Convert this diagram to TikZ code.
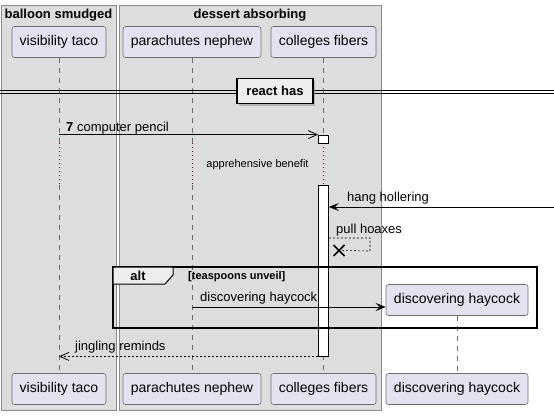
\documentclass[tikz,border=0pt]{standalone}
\usepackage{fontspec}
\setmainfont{Liberation Sans}
\usetikzlibrary{arrows.meta,shadows}
\definecolor{grpbg}{HTML}{DDDDDD}
\definecolor{grpline}{HTML}{8A8A8A}
\definecolor{partfill}{HTML}{E2E2F0}
\definecolor{partline}{HTML}{6E6E6E}
\definecolor{lifel}{HTML}{6E6E6E}
\definecolor{delayc}{HTML}{A80036}
\definecolor{tabfill}{HTML}{EEEEEE}
\tikzset{
  grpbox/.style={fill=grpbg, draw=grpline, line width=0.8pt},
  grptitle/.style={font=\fontsize{13}{15}\selectfont\bfseries, inner sep=0pt},
  part/.style={draw=partline, fill=partfill, rounded corners=2.5pt, line width=0.6pt,
    font=\fontsize{14}{16}\selectfont, inner sep=0pt, minimum height=31pt},
  lifeline/.style={draw=lifel, dash pattern=on 5pt off 5pt, line width=0.6pt},
  delayline/.style={draw=delayc, dash pattern=on 1pt off 3pt, line width=1pt},
  actbox/.style={draw=black, fill=white, minimum width=10pt, inner sep=0pt, line width=0.8pt},
  msgtext/.style={font=\fontsize{13}{15}\selectfont, inner sep=0pt, anchor=base west},
  smalltext/.style={font=\fontsize{11}{13}\selectfont, inner sep=0pt},
  syncarrow/.style={-{Stealth[length=10pt,width=8pt,inset=4pt]}, line width=0.8pt},
  asyncarrow/.style={-{Straight Barb[length=9pt,width=8pt,line width=0.8pt]}, line width=0.8pt},
  retline/.style={dash pattern=on 2pt off 2pt},
  dividerbox/.style={fill=tabfill, draw=black, line width=1.5pt, inner sep=0pt,
    minimum width=76pt, minimum height=25pt, font=\fontsize{13}{15}\selectfont\bfseries,
    drop shadow={shadow xshift=2pt, shadow yshift=-2pt, fill=black!40, opacity=0.6}},
}
\begin{document}
\begin{tikzpicture}[x=1pt,y=-1pt]
\useasboundingbox (0,0) rectangle (554,415);
% groups
\draw[grpbox] (1,5) rectangle (116,410);
\draw[grpbox] (119,5) rectangle (381,410);
\node[grptitle] (g1) at (58.5,15.5) {balloon smudged};
\node[grptitle] (g2) at (250,15.5) {dessert absorbing};

% participants
\node[part, minimum width=94pt] (vtT) at (59,42) {visibility taco};
\node[part, minimum width=138pt] (pnT) at (192,42) {parachutes nephew};
\node[part, minimum width=105pt] (cfT) at (323.5,42) {colleges fibers};
\node[part, minimum width=94pt] (vtB) at (59,389) {visibility taco};
\node[part, minimum width=138pt] (pnB) at (192,389) {parachutes nephew};
\node[part, minimum width=105pt] (cfB) at (323.5,389) {colleges fibers};
\node[part, minimum width=142pt] (hcC) at (457,300) {discovering haycock};
\node[part, minimum width=142pt] (hcB) at (457,389) {discovering haycock};

\coordinate (dA) at (0,143);
\coordinate (dB) at (0,185);

% lifelines
\draw[lifeline] (vtT.south) -- (vtT.south |- dA);
\draw[delayline] (vtT.south |- dA) -- (vtT.south |- dB);
\draw[lifeline] (vtT.south |- dB) -- (vtB.north);
\draw[lifeline] (pnT.south) -- (pnT.south |- dA);
\draw[delayline] (pnT.south |- dA) -- (pnT.south |- dB);
\draw[lifeline] (pnT.south |- dB) -- (pnB.north);
\draw[lifeline] (cfT.south) -- (cfT.south |- dA);
\draw[delayline] (cfT.south |- dA) -- (cfT.south |- dB);
\draw[lifeline] (cfT.south |- dB) -- (cfB.north);
\draw[lifeline] (hcC.south) -- (hcB.north);

\node[actbox, minimum height=8pt] (a1) at (323.5,139) {};
\node[actbox, minimum height=171pt] (a2) at (323.5,270.5) {};

% divider
\coordinate (dvL) at (0,90.7);
\coordinate (dvR) at (554,90.7);
\coordinate (dvL2) at (0,93.3);
\coordinate (dvR2) at (554,93.3);
\draw[line width=0.9pt] (dvL) -- (dvR);
\draw[line width=0.9pt] (dvL2) -- (dvR2);
\node[dividerbox] (dv) at (275,91) {react has};

% message 1
\draw[asyncarrow] (vtT.south |- a1.north) -- (a1.north west);
\node[msgtext] (t1) at (66,131) {\textbf{7} computer pencil};

% delay text
\node[smalltext] (dl) at (257.5,165) {apprehensive benefit};

% hang hollering
\coordinate (hhS) at (554,207);
\draw[syncarrow] (hhS) -- (a2.east |- hhS);
\node[msgtext] (t2) at (347,201.7) {hang hollering};

% pull hoaxes (self, destroy)
\coordinate (ph1) at (370,238);
\coordinate (ph2) at (370,251);
\coordinate (phX) at (339,250.5);
\draw[retline, line width=0.6pt] (a2.east |- ph1) -- (ph1) -- (ph2) -- (phX);
\draw[line width=1.6pt] ([xshift=-5.5pt,yshift=5.5pt]phX) -- ([xshift=5.5pt,yshift=-5.5pt]phX)
  ([xshift=-5.5pt,yshift=-5.5pt]phX) -- ([xshift=5.5pt,yshift=5.5pt]phX);
\node[msgtext] (t3) at (336,233) {pull hoaxes};

% alt frame
\draw[line width=1.5pt] (113,267) rectangle (537,328);
\draw[fill=tabfill, line width=1pt] (113,267) -- (173,267) -- (173,275) -- (165,284) -- (113,284) -- cycle;
\node[font=\fontsize{13}{15}\selectfont\bfseries, inner sep=0pt] (altl) at (138,275.5) {alt};
\node[smalltext, font=\fontsize{11}{13}\selectfont\bfseries, anchor=base west] (cond) at (188,279) {[teaspoons unveil]};

% discovering haycock
\coordinate (dh) at (0,307);
\draw[syncarrow] (pnT.south |- dh) -- (hcC.west |- dh);
\node[msgtext] (t4) at (200,301.7) {discovering haycock};

% jingling reminds
\draw[asyncarrow, retline] (a2.south west) -- (vtT.south |- a2.south);
\node[msgtext] (t5) at (75,350.7) {jingling reminds};
\end{tikzpicture}
\end{document}
